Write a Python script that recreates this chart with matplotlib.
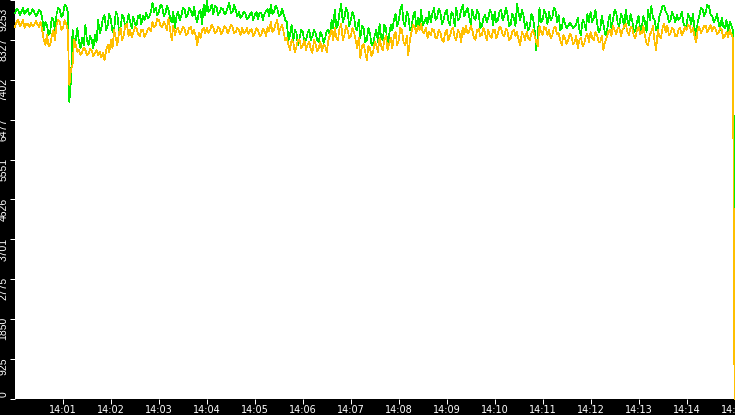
import numpy as np
import pandas as pd
import matplotlib
matplotlib.use("Agg")
import matplotlib.pyplot as plt
import matplotlib.dates as mdates
from matplotlib.transforms import ScaledTranslation

# Readings every 4 s from 14:00:00 (a) and the ones 2 s later (b), then the last one at 14:15:00
green_a = [
    8952, 9021, 8975, 8928, 9044, 8952, 8975, 8928, 8998, 8557,
    8673, 8511, 8789, 8928, 9021, 8905, 9114, 6888, 8557, 8325,
    8279, 8372, 8673, 8210, 8325, 8441, 8789, 8604, 8905, 8673,
    8789, 8557, 8928, 8604, 8836, 8696, 8743, 8859, 8673, 8905,
    8882, 8952, 8859, 9183, 9068, 8975, 9114, 8928, 9021, 8743,
    8604, 8975, 8882, 9044, 8928, 8998, 9091, 8743, 9021, 9137,
    9230, 9021, 8928, 9091, 8975, 9044, 8952, 9183, 8975, 9021,
    8975, 8882, 8952, 8836, 8975, 8905, 8812, 8952, 8928, 9044,
    9137, 8975, 9068, 8905, 8928, 8743, 8441, 8279, 8488, 8372,
    8511, 8325, 8557, 8418, 8488, 8279, 8441, 8372, 8557, 8789,
    9021, 8673, 9160, 8836, 8975, 8789, 8882, 8557, 8372, 8604,
    8325, 8488, 8233, 8557, 8696, 8325, 8604, 8441, 8557, 8928,
    8789, 9137, 8650, 8905, 8604, 8975, 8836, 9021, 8743, 8696,
    8743, 9068, 8836, 8975, 8789, 9021, 8673, 8928, 9068, 8836,
    9137, 8975, 8882, 9021, 8789, 8928, 8650, 8905, 8836, 8952,
    8975, 8789, 9021, 8882, 8928, 8696, 8836, 9160, 8789, 8905,
    8743, 8650, 8836, 8094, 9068, 8789, 8928, 8975, 8836, 9021,
    8905, 8604, 8696, 8650, 8673, 8627, 8836, 8441, 8743, 8928,
    8975, 8836, 8743, 8557, 8696, 8441, 8905, 8789, 8975, 8650,
    8836, 9021, 8673, 8789, 8557, 8882, 8604, 8743, 9021, 9114,
    8789, 8604, 8975, 9114, 8928, 8789, 8859, 8905, 8836, 8743,
    8673, 8836, 8928, 8441, 8882, 9044, 8975, 9114, 8882, 8789,
    8743, 8836, 8604, 8511, 8673,
]
green_b = [
    9044, 8905, 9068, 8998, 8905, 9044, 8882, 9021, 8836, 8743,
    8441, 8836, 8557, 9068, 8859, 9137, 8975, 7398, 8279, 8604,
    8140, 8210, 8325, 8418, 8140, 8279, 8488, 8836, 8557, 8928,
    8511, 8975, 8557, 8905, 8604, 8928, 8604, 8696, 8882, 8696,
    8789, 8836, 8975, 8975, 8905, 9137, 8882, 9114, 8836, 8975,
    8882, 8789, 9068, 8859, 9068, 8882, 8836, 8975, 8696, 8905,
    8975, 9137, 9114, 8905, 9068, 8928, 9091, 8952, 9137, 8882,
    8836, 8975, 8812, 8928, 8789, 8975, 8952, 8789, 8998, 8882,
    8928, 9114, 8882, 9044, 8789, 8325, 8673, 8557, 8210, 8557,
    8279, 8488, 8325, 8557, 8325, 8511, 8256, 8534, 8418, 8604,
    8604, 8975, 8743, 9068, 8650, 8975, 8604, 8789, 8650, 8279,
    8604, 8210, 8441, 8279, 8372, 8673, 8186, 8673, 8789, 8650,
    9021, 8743, 8975, 8557, 8882, 8650, 8604, 8673, 8836, 8975,
    8928, 8789, 9044, 8696, 8952, 8789, 8975, 8650, 8789, 9021,
    8882, 9068, 8696, 8836, 9021, 8604, 8836, 8743, 9021, 8673,
    8743, 8975, 8789, 9068, 8650, 8928, 8650, 8928, 9021, 8604,
    8557, 8928, 8557, 8441, 8743, 9021, 8696, 8789, 9068, 8743,
    8557, 8836, 8604, 8720, 8604, 8696, 8557, 8789, 8557, 8743,
    8743, 9021, 8511, 8882, 8465, 8743, 8604, 9021, 8696, 8928,
    8604, 8789, 8928, 8511, 8743, 8557, 8882, 8511, 8789, 8836,
    8557, 8882, 9114, 8975, 8743, 8975, 8743, 8789, 8975, 8604,
    8928, 8696, 8604, 8743, 9068, 8882, 9137, 8928, 8743, 8928,
    8557, 8650, 8789, 8743, 8557,
]
green_last = 4330

orange_a = [
    8627, 8789, 8696, 8604, 8696, 8720, 8673, 8696, 8743, 8325,
    8441, 8210, 8557, 8673, 8743, 8604, 8696, 7282, 7746, 8210,
    8094, 8047, 8094, 8001, 8070, 8024, 7978, 7931, 7862, 8210,
    8325, 8557, 8210, 8604, 8441, 8696, 8557, 8488, 8604, 8418,
    8557, 8465, 8604, 8743, 8673, 8789, 8627, 8696, 8836, 8325,
    8441, 8604, 8511, 8580, 8488, 8627, 8557, 8210, 8372, 8604,
    8604, 8557, 8627, 8511, 8580, 8534, 8604, 8557, 8627, 8511,
    8557, 8604, 8511, 8465, 8580, 8488, 8557, 8441, 8534, 8627,
    8743, 8557, 8789, 8604, 8511, 8372, 8094, 8279, 8163, 8325,
    8210, 8094, 8279, 8024, 8233, 8140, 8070, 8186, 8325, 8557,
    8604, 8325, 8696, 8441, 8557, 8418, 8511, 8140, 7908, 8233,
    7862, 8140, 8047, 8210, 8372, 8094, 8418, 8233, 8140, 8511,
    8325, 8557, 8210, 7978, 8511, 8604, 8650, 8696, 8488, 8372,
    8441, 8557, 8372, 8511, 8279, 8557, 8418, 8604, 8325, 8488,
    8604, 8650, 8511, 8557, 8325, 8580, 8441, 8488, 8557, 8372,
    8557, 8465, 8604, 8418, 8534, 8372, 8557, 8511, 8210, 8441,
    8511, 8325, 8557, 8279, 8650, 8441, 8604, 8557, 8418, 8627,
    8488, 8210, 8372, 8325, 8418, 8279, 8140, 8372, 8233, 8465,
    8511, 8325, 8441, 8279, 8094, 8372, 8557, 8650, 8465, 8604,
    8557, 8696, 8441, 8604, 8372, 8627, 8488, 8418, 8210, 8511,
    8279, 8557, 8372, 8696, 8650, 8488, 8557, 8418, 8604, 8511,
    8557, 8650, 8604, 8279, 8627, 8557, 8650, 8580, 8534, 8604,
    8488, 8557, 8418, 8395, 8465,
]
orange_b = [
    8743, 8650, 8789, 8696, 8627, 8650, 8766, 8627, 8557, 8210,
    8186, 8418, 8325, 8789, 8557, 8789, 8557, 7630, 8325, 8047,
    7978, 8140, 7978, 8117, 7954, 8094, 8047, 8024, 8094, 8047,
    8140, 8372, 8488, 8325, 8650, 8418, 8395, 8627, 8465, 8557,
    8395, 8580, 8534, 8627, 8812, 8650, 8743, 8557, 8557, 8650,
    8557, 8465, 8627, 8441, 8604, 8465, 8418, 8488, 8557, 8488,
    8488, 8673, 8488, 8627, 8465, 8650, 8488, 8673, 8488, 8604,
    8441, 8488, 8604, 8557, 8418, 8604, 8418, 8580, 8418, 8534,
    8511, 8696, 8465, 8673, 8325, 8210, 8325, 8047, 8325, 8140,
    8325, 8210, 8117, 8325, 8070, 8279, 8210, 8047, 8441, 8325,
    8372, 8604, 8325, 8650, 8372, 8604, 8325, 8372, 8186, 8047,
    8186, 7954, 8279, 8047, 8186, 8325, 8094, 8372, 8418, 8210,
    8604, 8279, 8418, 8325, 8673, 8488, 8557, 8511, 8604, 8511,
    8580, 8372, 8557, 8325, 8488, 8325, 8557, 8372, 8557, 8279,
    8465, 8488, 8650, 8372, 8557, 8418, 8604, 8325, 8418, 8557,
    8372, 8627, 8441, 8580, 8325, 8511, 8418, 8325, 8511, 8325,
    8372, 8488, 8418, 8186, 8511, 8627, 8441, 8372, 8604, 8465,
    8325, 8441, 8233, 8465, 8233, 8418, 8325, 8186, 8418, 8279,
    8372, 8511, 8279, 8418, 8279, 8511, 8418, 8557, 8604, 8418,
    8650, 8511, 8627, 8418, 8557, 8465, 8650, 8233, 8441, 8650,
    8094, 8418, 8604, 8511, 8441, 8604, 8418, 8557, 8441, 8627,
    8673, 8511, 8418, 8557, 8488, 8650, 8511, 8673, 8627, 8465,
    8604, 8372, 8511, 8557, 8372,
]
orange_last = 0

y_ticks = [0, 925.3, 1850.6, 2775.9, 3701.2, 4626.5, 5551.8, 6477.1, 7402.4, 8327.7, 9253]
y_labels = ['0', '925', '1850', '2775', '3701', '4626', '5551', '6477', '7402', '8327', '9253']

# interleave the two 4 s readings into one 2 s series
green = list(np.column_stack([green_a, green_b]).ravel()) + [green_last]
orange = list(np.column_stack([orange_a, orange_b]).ravel()) + [orange_last]
times = list(pd.date_range('2024-01-01 14:00:00', periods=len(green) - 1, freq='2s'))
times.append(pd.Timestamp('2024-01-01 14:15:00'))
x_ticks = pd.date_range('2024-01-01 14:01', '2024-01-01 14:15', freq='1min')

fig = plt.figure(figsize=(7.35, 4.15), dpi=100, facecolor='black')
ax = fig.add_axes([15 / 735, 16 / 415, 719.5 / 735, 399 / 415], facecolor='white')

ax.plot(times, green, color='#00ee00', linewidth=0.5, antialiased=False, clip_on=False)
ax.plot(times, orange, color='#ffbf00', linewidth=0.5, antialiased=False, clip_on=False)

ax.set_xlim(pd.Timestamp('2024-01-01 14:00:00'), pd.Timestamp('2024-01-01 14:15:00'))
ax.set_ylim(0, 9253)

for s in ax.spines.values():
    s.set_visible(False)

ax.set_xticks(x_ticks)
ax.xaxis.set_major_formatter(mdates.DateFormatter('%H:%M'))
ax.set_yticks(y_ticks)
ax.set_yticklabels(y_labels)

ax.tick_params(axis='both', colors='white', length=3.6, width=0.72, direction='out', labelsize=7)
ax.tick_params(axis='x', pad=1)
ax.tick_params(axis='y', pad=1)

up = ScaledTranslation(0, 2 / 100, fig.dpi_scale_trans)
ylabs = ax.get_yticklabels()
for lab in ylabs:
    lab.set_rotation(90)
    lab.set_va('top')
    lab.set_family(['Liberation Sans Narrow', 'Liberation Sans'])
    lab.set_fontsize(7.5)
    lab.set_transform(lab.get_transform() + up)

ylabs[0].set_va('bottom')
ylabs[-1].set_transform(ylabs[-1].get_transform() + ScaledTranslation(0, -10 / 100, fig.dpi_scale_trans))

fig.savefig('out.png', dpi=100, facecolor='black')
